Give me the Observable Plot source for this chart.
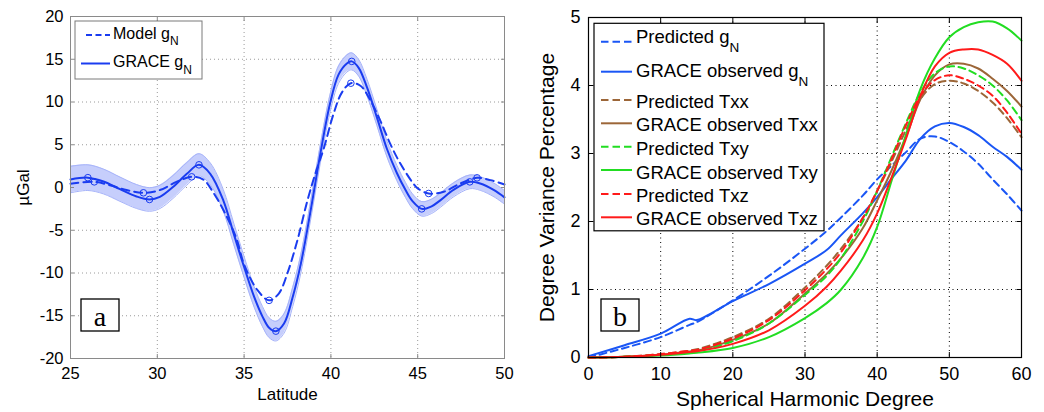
<!DOCTYPE html>
<html><head><meta charset="utf-8">
<script src="https://cdn.jsdelivr.net/npm/d3@7"></script>
<script src="https://cdn.jsdelivr.net/npm/@observablehq/plot@0.6"></script>
<style>
body{margin:0;background:#fff;}
#wrap{position:relative;width:1044px;height:412px;overflow:hidden;background:#fff;}
#wrap > svg{position:absolute;top:0;}
</style></head><body><div id="wrap"></div>
<script>
// ---------- Panel a : gN profile vs latitude ----------
const latGrace = [25.0,26.0,26.9,27.85,28.8,29.55,30.15,30.9,31.7,32.4,33.05,33.8,34.4,35.0,35.58,36.06,36.44,36.83,37.3,37.8,38.27,38.85,39.38,39.96,40.44,40.92,41.2,41.6,42.08,42.65,43.23,43.8,44.3,44.7,45.23,45.8,46.3,47.08,48.0,48.6,49.4,50.0];
const gGrace = [0.93,1.15,0.7,-0.2,-1.05,-1.4,-1.1,0.05,1.6,2.65,1.6,-1.5,-5.4,-9.3,-12.8,-15.1,-16.4,-16.8,-15.9,-12.8,-8.9,-2.5,3.8,9.9,13.2,14.5,14.75,14.0,11.7,8.2,4.5,1.7,-0.3,-1.6,-2.5,-2.2,-1.5,-0.25,0.66,0.47,-0.3,-1.15];
const gErr = [1.55,1.5,1.45,1.42,1.4,1.38,1.36,1.34,1.32,1.3,1.28,1.26,1.25,1.22,1.2,1.18,1.16,1.15,1.14,1.12,1.1,1.08,1.06,1.04,1.02,1.0,1.0,0.98,0.97,0.95,0.93,0.9,0.88,0.86,0.85,0.84,0.83,0.82,0.8,0.8,0.8,0.8];
const latModel = [25.0,26.37,27.27,28.23,29.2,30.15,31.1,31.98,32.65,33.2,34.0,34.58,35.0,35.77,36.44,37.0,37.5,38.08,38.65,39.13,39.58,40.15,40.63,41.15,41.7,42.27,42.85,43.42,44.0,44.77,45.0,45.63,46.5,47.46,48.42,49.2,50.0];
const gModel = [0.45,0.66,0.27,-0.3,-0.62,-0.3,0.66,1.25,0.93,-0.5,-3.4,-6.1,-9.0,-12.0,-13.2,-12.4,-10.0,-6.1,-1.5,1.8,4.5,8.6,11.1,12.2,11.9,10.2,7.8,5.1,2.8,0.4,-0.1,-0.7,-0.5,0.47,1.13,0.86,0.35];
const graceMarkLat = [26.0,29.55,32.4,36.83,41.2,45.23,48.0];
const graceMarkVal = [1.15,-1.4,2.65,-16.8,14.75,-2.5,0.66];
const modelMarkLat = [26.37,29.2,31.98,36.44,41.15,45.63,48.42];
const modelMarkVal = [0.66,-0.62,1.25,-13.2,12.2,-0.7,1.13];
const xTicksA = [25,30,35,40,45,50];
const yTicksA = [-20,-15,-10,-5,0,5,10,15,20];
const xLabelA = "Latitude";
const yLabelA = "\u00b5Gal";
const legendA = [{label:"Model g", sub:"N", dashed:true}, {label:"GRACE g", sub:"N", dashed:false}];

// ---------- Panel b : degree variance percentage ----------
const degree = [0,5,10,14,15,20,25,30,33,35,38,40,42,44,46,48,50,52,54,56,58,60];
const predG  = [0,0.14,0.3,0.48,0.52,0.84,1.2,1.6,1.86,2.06,2.38,2.62,2.82,3.02,3.22,3.25,3.17,3.03,2.85,2.62,2.4,2.16];
const obsG   = [0.02,0.18,0.35,0.57,0.55,0.83,1.08,1.38,1.58,1.8,2.12,2.36,2.63,2.9,3.22,3.4,3.45,3.39,3.27,3.1,2.95,2.76];
const predXX = [0,0.01,0.05,0.1,0.12,0.3,0.57,1.03,1.35,1.6,2.05,2.45,2.88,3.35,3.8,4.02,4.07,4.03,3.92,3.75,3.52,3.24];
const obsXX  = [0,0.01,0.04,0.09,0.1,0.26,0.5,0.94,1.23,1.46,1.9,2.31,2.75,3.25,3.8,4.15,4.31,4.32,4.25,4.1,3.92,3.69];
const predXY = [0,0.01,0.04,0.08,0.09,0.24,0.5,0.92,1.2,1.46,2.0,2.45,2.95,3.45,3.9,4.18,4.28,4.25,4.15,4.0,3.78,3.49];
const obsXY  = [0,0.01,0.03,0.06,0.07,0.14,0.3,0.58,0.8,1.0,1.46,1.92,2.6,3.28,3.95,4.4,4.71,4.86,4.93,4.94,4.84,4.66];
const predXZ = [0,0.01,0.05,0.1,0.11,0.28,0.55,0.99,1.3,1.55,2.05,2.45,2.92,3.42,3.85,4.08,4.15,4.1,4.0,3.85,3.6,3.29];
const obsXZ  = [0,0.01,0.04,0.08,0.09,0.2,0.4,0.76,1.04,1.28,1.72,2.12,2.65,3.22,3.85,4.28,4.48,4.53,4.53,4.45,4.32,4.07];
const xTicksB = [0,10,20,30,40,50,60];
const yTicksB = [0,1,2,3,4,5];
const xLabelB = "Spherical Harmonic Degree";
const yLabelB = "Degree Variance Percentage";
const seriesB = [
  {label:"Predicted g", sub:"N", values:predG, color:"#1a56f5", dashed:true},
  {label:"GRACE observed g", sub:"N", values:obsG, color:"#1a56f5", dashed:false},
  {label:"Predicted Txx", sub:"", values:predXX, color:"#9c6638", dashed:true},
  {label:"GRACE observed Txx", sub:"", values:obsXX, color:"#9c6638", dashed:false},
  {label:"Predicted Txy", sub:"", values:predXY, color:"#22dd22", dashed:true},
  {label:"GRACE observed Txy", sub:"", values:obsXY, color:"#22dd22", dashed:false},
  {label:"Predicted Txz", sub:"", values:predXZ, color:"#ff1a1a", dashed:true},
  {label:"GRACE observed Txz", sub:"", values:obsXZ, color:"#ff1a1a", dashed:false}
];
const panelLetters = ["a","b"];

// ---------- build ----------
const fontFamily = '"Liberation Sans", Arial, Helvetica, sans-serif';
const wrap = document.getElementById("wrap");
const blueA = "#1a3cf0";
const gray = "#8a8a8a";

const bandRows = latGrace.map((x,i)=>({x, y:gGrace[i], lo:gGrace[i]-gErr[i], hi:gGrace[i]+gErr[i]}));
const modelRows = latModel.map((x,i)=>({x, y:gModel[i]}));
const graceMarks = graceMarkLat.map((x,i)=>({x, y:graceMarkVal[i]}));
const modelMarks = modelMarkLat.map((x,i)=>({x, y:modelMarkVal[i]}));
const fmt = d => String(d);

const chartA = Plot.plot({
  width: 520, height: 412,
  marginLeft: 70, marginRight: 16, marginTop: 16, marginBottom: 54,
  style: {fontFamily, fontSize: "16.5px", color: "black", background: "white", overflow: "visible"},
  x: {domain: [25, 50]},
  y: {domain: [-20, 20]},
  marks: [
    Plot.gridX(xTicksA.slice(1,-1), {stroke: "#9a9a9a", strokeOpacity: 1, strokeDasharray: "1,3"}),
    Plot.gridY(yTicksA.slice(1,-1), {stroke: "#9a9a9a", strokeOpacity: 1, strokeDasharray: "1,3"}),
    Plot.areaY(bandRows, {x: "x", y1: "lo", y2: "hi", fill: "#c6cefc", curve: "catmull-rom"}),
    Plot.line(bandRows, {x: "x", y: "lo", stroke: "#a6b3fa", strokeWidth: 1, curve: "catmull-rom"}),
    Plot.line(bandRows, {x: "x", y: "hi", stroke: "#a6b3fa", strokeWidth: 1, curve: "catmull-rom"}),
    Plot.line(modelRows, {x: "x", y: "y", stroke: blueA, strokeWidth: 2, strokeDasharray: "8,5", curve: "catmull-rom"}),
    Plot.line(bandRows, {x: "x", y: "y", stroke: blueA, strokeWidth: 2, curve: "catmull-rom"}),
    Plot.dot(modelMarks, {x: "x", y: "y", r: 3.3, stroke: blueA, strokeWidth: 1}),
    Plot.dot(graceMarks, {x: "x", y: "y", r: 3.3, stroke: blueA, strokeWidth: 1}),
    Plot.frame({stroke: gray}),
    Plot.axisX(xTicksA, {tickSize: 0, tickPadding: 9, tickFormat: fmt, label: null, fontSize: 16.5}),
    Plot.axisY(yTicksA, {tickSize: 0, tickPadding: 7, tickFormat: fmt, label: null, fontSize: 16.5}),
    Plot.axisX(xTicksA, {tickSize: -4, stroke: gray, tickFormat: () => "", label: null}),
    Plot.axisX(xTicksA, {anchor: "top", tickSize: -4, stroke: gray, tickFormat: () => "", label: null}),
    Plot.axisY(yTicksA, {tickSize: -4, stroke: gray, tickFormat: () => "", label: null}),
    Plot.axisY(yTicksA, {anchor: "right", tickSize: -4, stroke: gray, tickFormat: () => "", label: null}),
    Plot.text([xLabelA], {frameAnchor: "bottom", dy: 41, textAnchor: "middle", fontSize: 17}),
    Plot.text([yLabelA], {frameAnchor: "left", dx: -47, rotate: -90, textAnchor: "middle", fontSize: 17})
  ]
});
chartA.style.left = "0px";
wrap.appendChild(chartA);

const rowsB = [];
seriesB.forEach((s, si) => degree.forEach((d, i) => rowsB.push({deg: d, v: s.values[i], si})));
const lineMarksB = seriesB.map((s, si) => Plot.line(rowsB.filter(r => r.si === si), {
  x: "deg", y: "v", stroke: s.color, strokeWidth: 2,
  strokeDasharray: s.dashed ? "7,4.5" : null, curve: "catmull-rom"
}));

const chartB = Plot.plot({
  width: 524, height: 412,
  marginLeft: 68, marginRight: 23, marginTop: 17, marginBottom: 55,
  style: {fontFamily, fontSize: "18px", color: "black", background: "white", overflow: "visible"},
  x: {domain: [0, 60]},
  y: {domain: [0, 5]},
  marks: [
    Plot.gridX(xTicksB.slice(1,-1), {stroke: "black", strokeOpacity: 1, strokeDasharray: "1,3.5"}),
    Plot.gridY(yTicksB.slice(1,-1), {stroke: "black", strokeOpacity: 1, strokeDasharray: "1,3.5"}),
    ...lineMarksB,
    Plot.frame({stroke: "black", strokeWidth: 1.2}),
    Plot.axisX(xTicksB, {tickSize: 0, tickPadding: 10, tickFormat: fmt, label: null, fontSize: 18}),
    Plot.axisY(yTicksB, {tickSize: 0, tickPadding: 8, tickFormat: fmt, label: null, fontSize: 18}),
    Plot.axisX(xTicksB, {tickSize: -5, tickFormat: () => "", label: null}),
    Plot.axisX(xTicksB, {anchor: "top", tickSize: -5, tickFormat: () => "", label: null}),
    Plot.axisY(yTicksB, {tickSize: -5, tickFormat: () => "", label: null}),
    Plot.axisY(yTicksB, {anchor: "right", tickSize: -5, tickFormat: () => "", label: null}),
    Plot.text([xLabelB], {frameAnchor: "bottom", dy: 48, textAnchor: "middle", fontSize: 21}),
    Plot.text([yLabelB], {frameAnchor: "left", dx: -41, rotate: -90, textAnchor: "middle", fontSize: 21})
  ]
});
chartB.style.left = "520px";
wrap.appendChild(chartB);

// ---------- overlay: legends and panel letters ----------
const ov = d3.create("svg").attr("width", 1044).attr("height", 412)
  .style("left", "0px").style("pointer-events", "none")
  .attr("font-family", fontFamily);

function drawLegend(box, rows, opt) {
  ov.append("rect").attr("x", box.x).attr("y", box.y).attr("width", box.w).attr("height", box.h)
    .attr("fill", "white").attr("stroke", box.stroke).attr("stroke-width", box.sw);
  rows.forEach((r, i) => {
    const ly = opt.lineY[i], by = opt.baseY[i];
    ov.append("line").attr("x1", r.dashed ? opt.dashX1 : opt.sx1).attr("x2", opt.sx2)
      .attr("y1", ly).attr("y2", ly).attr("stroke", r.color).attr("stroke-width", 2)
      .attr("stroke-dasharray", r.dashed ? opt.dash : null);
    const t = ov.append("text").attr("x", opt.tx).attr("y", by).attr("font-size", opt.fs).attr("fill", "black").text(r.label);
    if (r.sub) t.append("tspan").attr("dy", opt.subDy).attr("font-size", opt.subFs).text(r.sub);
  });
}
drawLegend({x: 75, y: 21, w: 127, h: 58, stroke: "#7a7a7a", sw: 1},
  legendA.map(d => ({...d, color: blueA})),
  {lineY: [35, 63.5], baseY: [38.5, 67], sx1: 81, dashX1: 86, sx2: 110, tx: 113, fs: 16, subFs: 12, subDy: 6.5, dash: "6,3.5"});
drawLegend({x: 594, y: 23.3, w: 230, h: 207.5, stroke: "black", sw: 1.2},
  seriesB,
  {lineY: [41.7, 71.7, 100, 123.3, 146.7, 170, 194, 217.3], baseY: [43.3, 77.3, 107.7, 131, 154.7, 179, 202, 225.3],
   sx1: 601, dashX1: 601, sx2: 632, tx: 636, fs: 18.5, subFs: 13.5, subDy: 9, dash: "7.5,4"});

[{x: 81, y: 299, w: 38, h: 32, cx: 100}, {x: 601, y: 299, w: 38, h: 32, cx: 620}].forEach((b, i) => {
  ov.append("rect").attr("x", b.x).attr("y", b.y).attr("width", b.w).attr("height", b.h)
    .attr("fill", "white").attr("stroke", "black").attr("stroke-width", 1.3);
  ov.append("text").attr("x", b.cx).attr("y", 326).attr("text-anchor", "middle")
    .attr("font-family", '"Liberation Serif", "DejaVu Serif", serif').attr("font-size", 28)
    .attr("fill", "black").text(panelLetters[i]);
});
wrap.appendChild(ov.node());
</script></body></html>
